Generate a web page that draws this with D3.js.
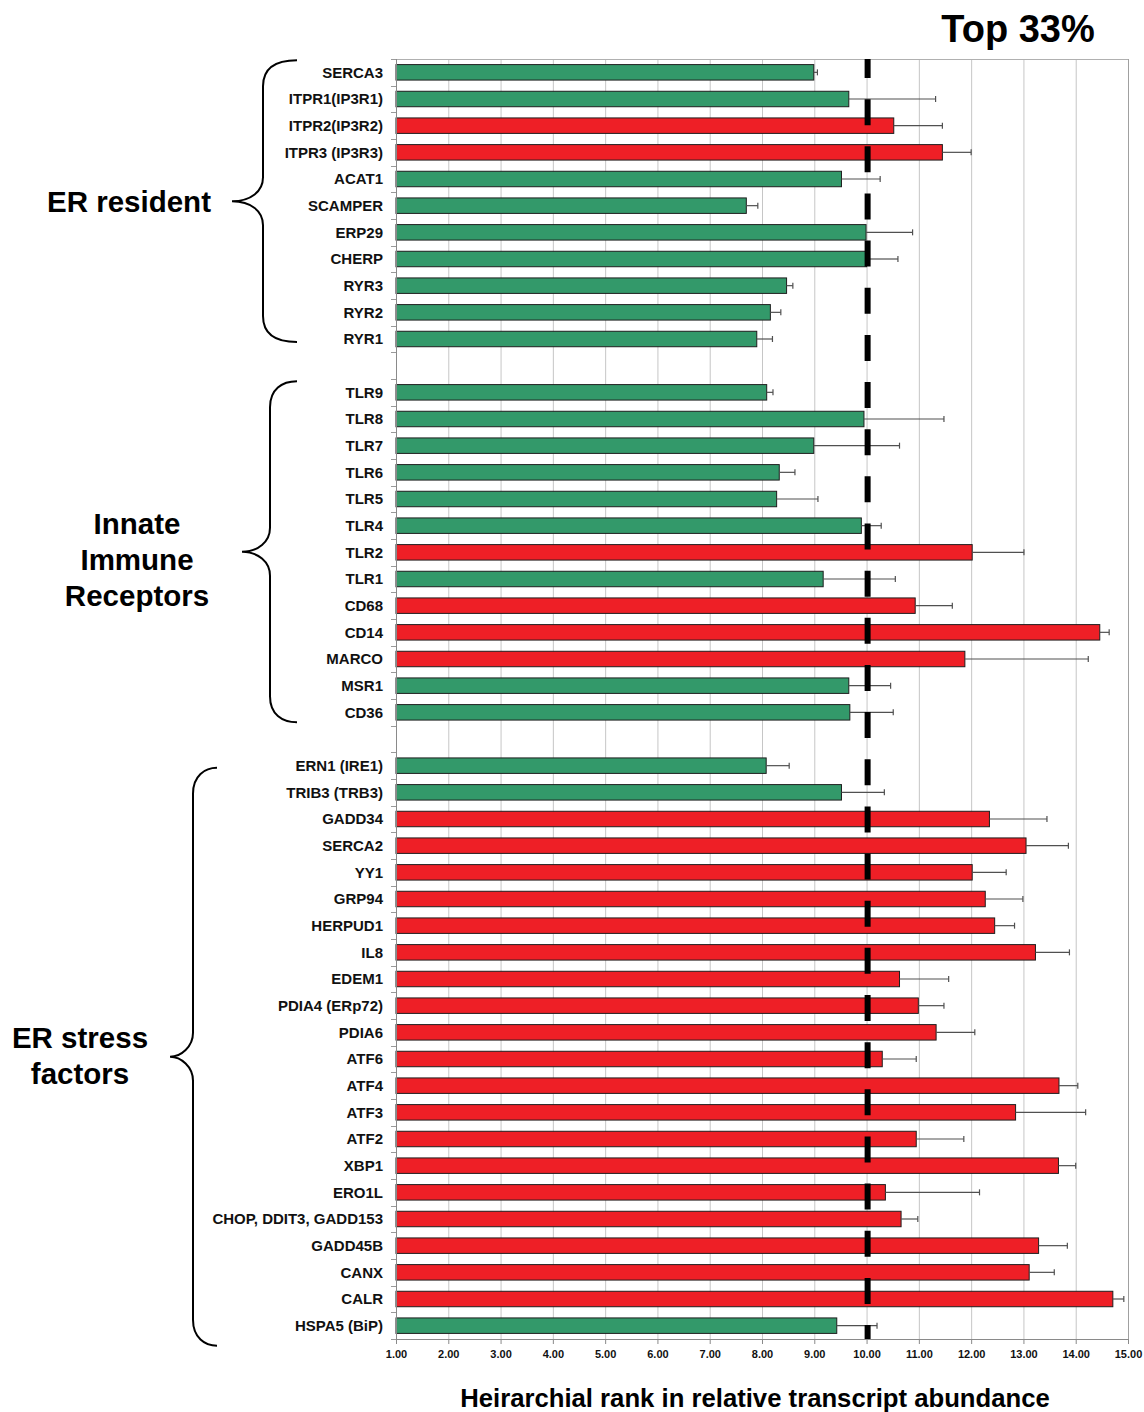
<!DOCTYPE html>
<html>
<head>
<meta charset="utf-8">
<script src="https://cdn.jsdelivr.net/npm/d3@7"></script>
<style>
  html, body { margin: 0; padding: 0; background: #fff; }
  svg { display: block; font-family: "Liberation Sans", Arial, Helvetica, sans-serif; }
</style>
</head>
<body>
<svg id="chart" width="1144" height="1412"></svg>
<script>
// ---------- DATA ----------
const erResidentGenes = ["SERCA3","ITPR1(IP3R1)","ITPR2(IP3R2)","ITPR3 (IP3R3)","ACAT1","SCAMPER","ERP29","CHERP","RYR3","RYR2","RYR1"];
const erResidentValues = [8.99, 9.66, 10.52, 11.45, 9.52, 7.70, 9.99, 10.00, 8.47, 8.16, 7.90];
const erResidentErrors = [0.07, 1.66, 0.93, 0.55, 0.74, 0.22, 0.89, 0.60, 0.12, 0.20, 0.30];
const erResidentTop = [false, false, true, true, false, false, false, false, false, false, false];

const innateGenes = ["TLR9","TLR8","TLR7","TLR6","TLR5","TLR4","TLR2","TLR1","CD68","CD14","MARCO","MSR1","CD36"];
const innateValues = [8.09, 9.95, 8.99, 8.33, 8.28, 9.90, 12.02, 9.17, 10.93, 14.46, 11.88, 9.66, 9.68];
const innateErrors = [0.12, 1.53, 1.64, 0.30, 0.79, 0.38, 0.99, 1.38, 0.71, 0.18, 2.36, 0.80, 0.83];
const innateTop = [false, false, false, false, false, false, true, false, true, true, true, false, false];

const stressGenes = ["ERN1 (IRE1)","TRIB3 (TRB3)","GADD34","SERCA2","YY1","GRP94","HERPUD1","IL8","EDEM1","PDIA4 (ERp72)","PDIA6","ATF6","ATF4","ATF3","ATF2","XBP1","ERO1L","CHOP, DDIT3, GADD153","GADD45B","CANX","CALR","HSPA5 (BiP)"];
const stressValues = [8.08, 9.52, 12.35, 13.05, 12.02, 12.27, 12.45, 13.23, 10.63, 10.99, 11.33, 10.30, 13.68, 12.85, 10.95, 13.67, 10.36, 10.66, 13.29, 13.11, 14.71, 9.43];
const stressErrors = [0.44, 0.82, 1.10, 0.81, 0.65, 0.72, 0.38, 0.65, 0.94, 0.49, 0.74, 0.65, 0.36, 1.34, 0.91, 0.33, 1.80, 0.32, 0.55, 0.48, 0.21, 0.77];
const stressTop = [false, false, true, true, true, true, true, true, true, true, true, true, true, true, true, true, true, true, true, true, true, false];

const groupNames = [["ER resident"], ["Innate", "Immune", "Receptors"], ["ER stress", "factors"]];
const xTicks = [1,2,3,4,5,6,7,8,9,10,11,12,13,14,15];
const thresholdValue = 10.02;
const thresholdLabel = "Top 33%";
const xTitle = "Heirarchial rank in relative transcript abundance";

// ---------- BUILD ROWS ----------
function mk(genes, vals, errs, top, g) {
  return genes.map((name, i) => ({ id: g + "-" + i, name, value: vals[i], err: errs[i], top: top[i], group: g }));
}
const groups = [
  mk(erResidentGenes, erResidentValues, erResidentErrors, erResidentTop, 0),
  mk(innateGenes, innateValues, innateErrors, innateTop, 1),
  mk(stressGenes, stressValues, stressErrors, stressTop, 2)
];
const rows = [];
groups.forEach((g, gi) => {
  g.forEach(r => rows.push(r));
  if (gi < groups.length - 1) rows.push({ id: "gap-" + gi, blank: true });
});
const bars = rows.filter(r => !r.blank);

// ---------- LAYOUT ----------
const svg = d3.select("#chart");
const plot = { left: 396, right: 1128, top: 59, bottom: 1339 };
const GREEN = "#33996a", RED = "#ee1f26";

const x = d3.scaleLinear().domain([1, 15]).range([plot.left, plot.right]);
const y = d3.scaleBand().domain(rows.map(r => r.id)).range([plot.top, plot.bottom])
  .paddingInner(0.42).paddingOuter(0.21);
const step = y.step();

// gridlines
svg.append("g").selectAll("line").data(xTicks.slice(1, -1)).join("line")
  .attr("x1", d => x(d) + 0.5).attr("x2", d => x(d) + 0.5)
  .attr("y1", plot.top).attr("y2", plot.bottom)
  .attr("stroke", "#c6c6c6").attr("stroke-width", 1);

// plot frame (top & right)
svg.append("line").attr("x1", plot.left).attr("x2", plot.right).attr("y1", plot.top + 0.5).attr("y2", plot.top + 0.5)
  .attr("stroke", "#b0b0b0");
svg.append("line").attr("x1", plot.right + 0.5).attr("x2", plot.right + 0.5).attr("y1", plot.top).attr("y2", plot.bottom)
  .attr("stroke", "#a0a0a0");

// bars
svg.append("g").selectAll("rect").data(bars).join("rect")
  .attr("x", x(1))
  .attr("y", d => y(d.id))
  .attr("width", d => x(d.value) - x(1))
  .attr("height", y.bandwidth())
  .attr("fill", d => d.top ? RED : GREEN)
  .attr("stroke", "#1e1e1e").attr("stroke-width", 1);

// error bars
const eb = svg.append("g").attr("stroke", "#505050").attr("stroke-width", 1.2);
eb.selectAll("line.h").data(bars).join("line").attr("class", "h")
  .attr("x1", d => x(d.value)).attr("x2", d => x(d.value + d.err))
  .attr("y1", d => y(d.id) + y.bandwidth() / 2).attr("y2", d => y(d.id) + y.bandwidth() / 2);
eb.selectAll("line.c").data(bars).join("line").attr("class", "c")
  .attr("x1", d => x(d.value + d.err)).attr("x2", d => x(d.value + d.err))
  .attr("y1", d => y(d.id) + y.bandwidth() / 2 - 3).attr("y2", d => y(d.id) + y.bandwidth() / 2 + 3);

// left axis line and category ticks
svg.append("line").attr("x1", plot.left + 0.5).attr("x2", plot.left + 0.5).attr("y1", plot.top).attr("y2", plot.bottom)
  .attr("stroke", "#8a8a8a");
const boundaries = rows.map(r => y(r.id) - y.paddingInner() * step / 2).concat([plot.bottom]);
svg.append("g").selectAll("line").data(boundaries).join("line")
  .attr("x1", plot.left - 5).attr("x2", plot.left)
  .attr("y1", d => Math.round(d) + 0.5).attr("y2", d => Math.round(d) + 0.5)
  .attr("stroke", "#9a9a9a");

// category labels
svg.append("g").selectAll("text").data(bars).join("text")
  .attr("x", plot.left - 13)
  .attr("y", d => y(d.id) + y.bandwidth() / 2)
  .attr("dy", "0.36em")
  .attr("text-anchor", "end")
  .attr("font-size", "15px").attr("font-weight", "bold").attr("fill", "#111")
  .text(d => d.name);

// x axis
const xAxis = d3.axisBottom(x).tickValues(xTicks).tickFormat(d3.format(".2f")).tickSize(5).tickPadding(6);
const gx = svg.append("g").attr("transform", `translate(0,${plot.bottom})`).call(xAxis);
gx.select(".domain").attr("stroke", "#8a8a8a");
gx.selectAll(".tick line").attr("stroke", "#8a8a8a");
gx.selectAll("text").attr("font-size", "11px").attr("font-weight", "bold").attr("fill", "#111")
  .attr("font-family", "'Liberation Sans', Arial, sans-serif");

// threshold dashed line
svg.append("line")
  .attr("x1", x(thresholdValue)).attr("x2", x(thresholdValue))
  .attr("y1", plot.top).attr("y2", plot.bottom)
  .attr("stroke", "#000").attr("stroke-width", 6)
  .attr("stroke-dasharray", "26,21.15").attr("stroke-dashoffset", 7);

// threshold label
svg.append("text").attr("x", 1018).attr("y", 42).attr("text-anchor", "middle")
  .attr("font-size", "38px").attr("font-weight", "bold").attr("fill", "#000").text(thresholdLabel);

// x title
svg.append("text").attr("x", 755).attr("y", 1407).attr("text-anchor", "middle")
  .attr("font-size", "25.7px").attr("font-weight", "bold").attr("fill", "#000").text(xTitle);

// braces and group labels
const braceCfg = [
  { offTop: -12, offBot: 3, xe: 297, xv: 263, xt: 232, labelX: 129, labelDy: 11 },
  { offTop: -11, offBot: 10, xe: 297, xv: 270, xt: 242, labelX: 137, labelDy: 18 },
  { offTop: 2, offBot: 20, xe: 217, xv: 193, xt: 170, labelX: 80, labelDy: 9 }
];
groups.forEach((g, gi) => {
  const c = braceCfg[gi];
  const top = y(g[0].id) + y.bandwidth() / 2 + c.offTop;
  const bot = y(g[g.length - 1].id) + y.bandwidth() / 2 + c.offBot;
  const mid = (top + bot) / 2;
  const p = d3.path();
  p.moveTo(c.xe, top);
  p.bezierCurveTo(c.xv + 12, top, c.xv, top + 8, c.xv, top + 26);
  p.lineTo(c.xv, mid - 24);
  p.bezierCurveTo(c.xv, mid - 10, c.xv - 12, mid, c.xt, mid);
  p.bezierCurveTo(c.xv - 12, mid, c.xv, mid + 10, c.xv, mid + 24);
  p.lineTo(c.xv, bot - 26);
  p.bezierCurveTo(c.xv, bot - 8, c.xv + 12, bot, c.xe, bot);
  svg.append("path").attr("d", p.toString()).attr("fill", "none").attr("stroke", "#000").attr("stroke-width", 2);

  const lines = groupNames[gi];
  const lh = 36;
  const t = svg.append("text").attr("text-anchor", "middle")
    .attr("font-size", "29.5px").attr("font-weight", "bold").attr("fill", "#000");
  lines.forEach((ln, li) => {
    t.append("tspan").attr("x", c.labelX)
      .attr("y", mid + c.labelDy + (li - (lines.length - 1) / 2) * lh)
      .text(ln);
  });
});
</script>
</body>
</html>
